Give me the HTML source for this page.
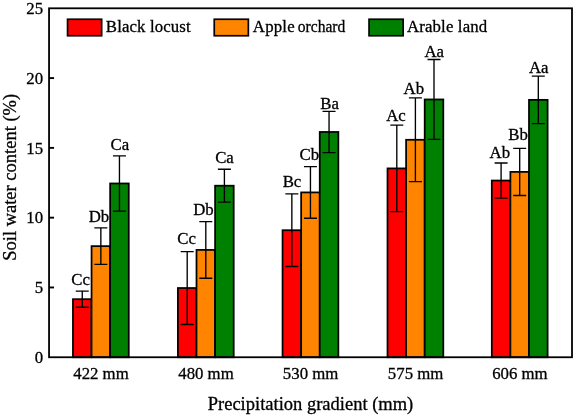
<!DOCTYPE html>
<html><head><meta charset="utf-8"><title>Soil water content</title>
<style>
html,body{margin:0;padding:0;background:#fff;}
svg{display:block;}
text{font-family:"Liberation Serif","Times New Roman",serif;font-size:16.8px;fill:#000;stroke:#000;stroke-width:0.3px;}
</style></head><body>
<svg width="575" height="415" viewBox="0 0 575 415">
<rect x="0" y="0" width="575" height="415" fill="#fff"/>

<rect x="72.95" y="299.18" width="18.60" height="58.07" fill="#ff0000" stroke="#000" stroke-width="1.75"/>
<rect x="91.55" y="246.14" width="18.60" height="111.11" fill="#ff8500" stroke="#000" stroke-width="1.75"/>
<rect x="110.15" y="183.47" width="18.60" height="173.78" fill="#008000" stroke="#000" stroke-width="1.75"/>
<path d="M82.25 291.09V307.28M75.75 291.09H88.75M75.75 307.28H88.75" stroke="#000" stroke-width="1.35" fill="none"/>
<path d="M100.85 227.86V264.43M94.35 227.86H107.35M94.35 264.43H107.35" stroke="#000" stroke-width="1.35" fill="none"/>
<path d="M119.45 155.84V211.11M112.95 155.84H125.95M112.95 211.11H125.95" stroke="#000" stroke-width="1.35" fill="none"/>
<text x="80.6" y="285.3" text-anchor="middle">Cc</text>
<text x="98.9" y="221.7" text-anchor="middle">Db</text>
<text x="119.8" y="150.3" text-anchor="middle">Ca</text>
<text x="101.0" y="378.8" text-anchor="middle">422 mm</text>
<rect x="177.90" y="288.02" width="18.60" height="69.23" fill="#ff0000" stroke="#000" stroke-width="1.75"/>
<rect x="196.50" y="249.91" width="18.60" height="107.34" fill="#ff8500" stroke="#000" stroke-width="1.75"/>
<rect x="215.10" y="185.71" width="18.60" height="171.54" fill="#008000" stroke="#000" stroke-width="1.75"/>
<path d="M187.20 251.59V324.45M180.70 251.59H193.70M180.70 324.45H193.70" stroke="#000" stroke-width="1.35" fill="none"/>
<path d="M205.80 221.58V278.25M199.30 221.58H212.30M199.30 278.25H212.30" stroke="#000" stroke-width="1.35" fill="none"/>
<path d="M224.40 169.24V202.18M217.90 169.24H230.90M217.90 202.18H230.90" stroke="#000" stroke-width="1.35" fill="none"/>
<text x="186.6" y="243.9" text-anchor="middle">Cc</text>
<text x="203.4" y="215.3" text-anchor="middle">Db</text>
<text x="224.5" y="162.9" text-anchor="middle">Ca</text>
<text x="206.0" y="378.8" text-anchor="middle">480 mm</text>
<rect x="282.55" y="230.23" width="18.60" height="127.02" fill="#ff0000" stroke="#000" stroke-width="1.75"/>
<rect x="301.15" y="192.41" width="18.60" height="164.84" fill="#ff8500" stroke="#000" stroke-width="1.75"/>
<rect x="319.75" y="131.97" width="18.60" height="225.28" fill="#008000" stroke="#000" stroke-width="1.75"/>
<path d="M291.85 193.94V266.52M285.35 193.94H298.35M285.35 266.52H298.35" stroke="#000" stroke-width="1.35" fill="none"/>
<path d="M310.45 166.58V218.23M303.95 166.58H316.95M303.95 218.23H316.95" stroke="#000" stroke-width="1.35" fill="none"/>
<path d="M329.05 111.31V152.63M322.55 111.31H335.55M322.55 152.63H335.55" stroke="#000" stroke-width="1.35" fill="none"/>
<text x="292.0" y="186.5" text-anchor="middle">Bc</text>
<text x="309.3" y="159.9" text-anchor="middle">Cb</text>
<text x="329.7" y="108.8" text-anchor="middle">Ba</text>
<text x="310.6" y="378.8" text-anchor="middle">530 mm</text>
<rect x="387.50" y="168.40" width="18.60" height="188.85" fill="#ff0000" stroke="#000" stroke-width="1.75"/>
<rect x="406.10" y="139.78" width="18.60" height="217.47" fill="#ff8500" stroke="#000" stroke-width="1.75"/>
<rect x="424.70" y="99.45" width="18.60" height="257.80" fill="#008000" stroke="#000" stroke-width="1.75"/>
<path d="M396.80 125.13V211.67M390.30 125.13H403.30M390.30 211.67H403.30" stroke="#000" stroke-width="1.35" fill="none"/>
<path d="M415.40 97.91V181.66M408.90 97.91H421.90M408.90 181.66H421.90" stroke="#000" stroke-width="1.35" fill="none"/>
<path d="M434.00 59.53V139.37M427.50 59.53H440.50M427.50 139.37H440.50" stroke="#000" stroke-width="1.35" fill="none"/>
<text x="396.0" y="121.3" text-anchor="middle">Ac</text>
<text x="413.8" y="93.5" text-anchor="middle">Ab</text>
<text x="434.2" y="56.5" text-anchor="middle">Aa</text>
<text x="415.6" y="378.8" text-anchor="middle">575 mm</text>
<rect x="491.80" y="180.54" width="18.60" height="176.71" fill="#ff0000" stroke="#000" stroke-width="1.75"/>
<rect x="510.40" y="171.89" width="18.60" height="185.36" fill="#ff8500" stroke="#000" stroke-width="1.75"/>
<rect x="529.00" y="99.86" width="18.60" height="257.39" fill="#008000" stroke="#000" stroke-width="1.75"/>
<path d="M501.10 162.95V198.13M494.60 162.95H507.60M494.60 198.13H507.60" stroke="#000" stroke-width="1.35" fill="none"/>
<path d="M519.70 148.30V195.48M513.20 148.30H526.20M513.20 195.48H526.20" stroke="#000" stroke-width="1.35" fill="none"/>
<path d="M538.30 76.14V123.59M531.80 76.14H544.80M531.80 123.59H544.80" stroke="#000" stroke-width="1.35" fill="none"/>
<text x="499.8" y="157.5" text-anchor="middle">Ab</text>
<text x="518.0" y="140.3" text-anchor="middle">Bb</text>
<text x="538.7" y="72.7" text-anchor="middle">Aa</text>
<text x="519.9" y="378.8" text-anchor="middle">606 mm</text>
<rect x="49.05" y="8.3" width="522.95" height="348.95" fill="none" stroke="#000" stroke-width="1.8"/>
<text x="43.1" y="362.9" text-anchor="end">0</text>
<path d="M49.05 287.46H54.05" stroke="#000" stroke-width="1.9"/>
<text x="43.1" y="293.1" text-anchor="end">5</text>
<path d="M49.05 217.67H54.05" stroke="#000" stroke-width="1.9"/>
<text x="43.1" y="223.3" text-anchor="end">10</text>
<path d="M49.05 147.88H54.05" stroke="#000" stroke-width="1.9"/>
<text x="43.1" y="153.5" text-anchor="end">15</text>
<path d="M49.05 78.09H54.05" stroke="#000" stroke-width="1.9"/>
<text x="43.1" y="83.7" text-anchor="end">20</text>
<text x="43.1" y="13.9" text-anchor="end">25</text>
<rect x="67.55" y="19.25" width="34.1" height="16.5" fill="#ff0000" stroke="#000" stroke-width="1.7"/>
<text x="105.8" y="32.1" textLength="84.9" lengthAdjust="spacing">Black locust</text>
<rect x="214.25" y="19.25" width="34.1" height="16.5" fill="#ff8500" stroke="#000" stroke-width="1.7"/>
<text y="32.1"><tspan x="252.8" textLength="41.9" lengthAdjust="spacing">Apple</tspan> <tspan x="297.8" textLength="47.5" lengthAdjust="spacingAndGlyphs">orchard</tspan></text>
<rect x="369.05" y="19.25" width="34.1" height="16.5" fill="#008000" stroke="#000" stroke-width="1.7"/>
<text x="407" y="32.1" textLength="80.2" lengthAdjust="spacing">Arable land</text>
<text x="310.5" y="409.9" text-anchor="middle" style="font-size:18.5px">Precipitation gradient (mm)</text>
<text transform="translate(16.1,177.3) rotate(-90)" text-anchor="middle" style="font-size:18.5px">Soil water content (%)</text>
</svg></body></html>
